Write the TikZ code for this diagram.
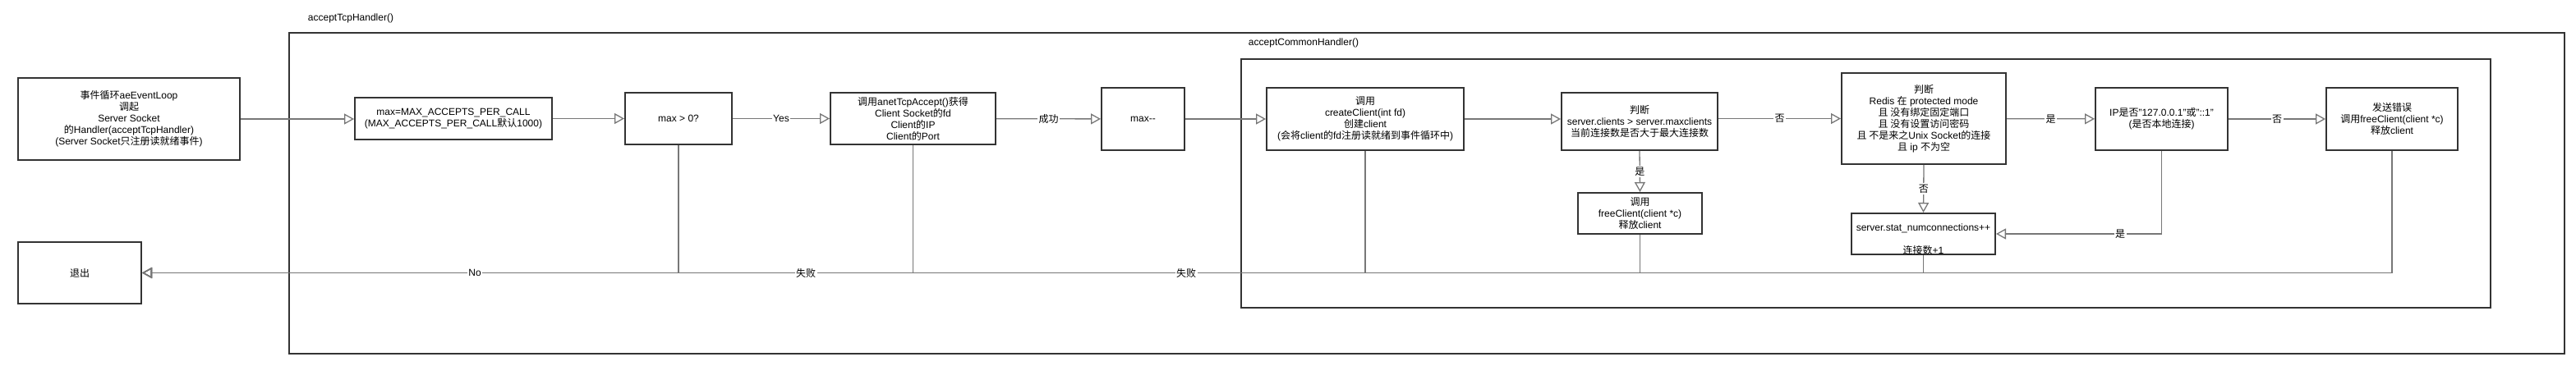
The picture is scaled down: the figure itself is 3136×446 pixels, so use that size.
\documentclass[tikz,border=0pt]{standalone}
\usepackage{fontspec}
\setmainfont{Liberation Sans}
\newfontfamily\cjk{Noto Sans CJK SC}
\newcommand\zh[1]{{\cjk #1}}
\usetikzlibrary{arrows.meta}
\definecolor{boxline}{HTML}{333333}
\definecolor{connline}{HTML}{777777}
\tikzset{
  proc/.style={draw=boxline, line width=2pt, align=center, inner sep=0pt, font=\fontsize{12}{14}\selectfont},
  hframe/.style={draw=boxline, line width=2pt},
  conn/.style={draw=connline, line width=1.3pt, -{Triangle[open,length=12pt,width=13pt]}},
  lbl/.style={fill=white, inner sep=1.5pt, font=\fontsize{12}{14}\selectfont},
  title/.style={inner sep=0pt, font=\fontsize{12}{14}\selectfont},
}
\begin{document}
\begin{tikzpicture}[x=1pt, y=-1pt]
  \useasboundingbox (0,0) rectangle (3136,446);
  % frames
  \draw[hframe] (352,40) rectangle (3122,431);
  \node[title] (tcplbl) at (427,22) {acceptTcpHandler()};
  \draw[hframe] (1511,72) rectangle (3032,375);
  \node[title] (commonlbl) at (1587,52) {acceptCommonHandler()};

  % boxes
  \node[proc, minimum width=270pt, minimum height=100pt] (loop) at (157,145)
    {\zh{事件循环}aeEventLoop\\\zh{调起}\\Server Socket\\\zh{的}Handler(acceptTcpHandler)\\(Server Socket\zh{只注册读就绪事件})};
  \node[proc, minimum width=150pt, minimum height=75pt] (quit) at (97,332.5) {\zh{退出}};
  \node[proc, minimum width=240pt, minimum height=51pt] (initmax) at (552,144.5)
    {max=MAX\_ACCEPTS\_PER\_CALL\\(MAX\_ACCEPTS\_PER\_CALL\zh{默认}1000)};
  \node[proc, minimum width=130pt, minimum height=63pt] (chkmax) at (826,144.5) {max > 0?};
  \node[proc, minimum width=201pt, minimum height=63pt] (accept) at (1111.5,144.5)
    {\zh{调用}anetTcpAccept()\zh{获得}\\Client Socket\zh{的}fd\\Client\zh{的}IP\\Client\zh{的}Port};
  \node[proc, minimum width=101pt, minimum height=76pt] (decmax) at (1391.5,145) {max-{}-};
  \node[proc, minimum width=240pt, minimum height=76pt] (create) at (1662,145)
    {\zh{调用}\\createClient(int fd)\\\zh{创建}client\\(\zh{会将}client\zh{的}fd\zh{注册读就绪到事件循环中})};
  \node[proc, minimum width=190pt, minimum height=70pt] (maxcli) at (1996,148)
    {\zh{判断}\\server.clients > server.maxclients\\\zh{当前连接数是否大于最大连接数}};
  \node[proc, minimum width=151pt, minimum height=50pt] (freec) at (1996.5,260)
    {\zh{调用}\\freeClient(client *c)\\\zh{释放}client};
  \node[proc, minimum width=200pt, minimum height=111pt] (prot) at (2342,144.5)
    {\zh{判断}\\Redis \zh{在} protected mode\\\zh{且 没有绑定固定端口}\\\zh{且 没有设置访问密码}\\\zh{且 不是来之}Unix Socket\zh{的连接}\\\zh{且} ip \zh{不为空}};
  \node[proc, minimum width=175pt, minimum height=50pt] (numc) at (2341.5,285) {};
  \node[title, align=center] (numctext) at (2341.5,291.5)
    {server.stat\_numconnections++\\~\\\zh{连接数}+1};
  \node[proc, minimum width=161pt, minimum height=76pt] (local) at (2631.5,145)
    {IP\zh{是否}"127.0.0.1"\zh{或}"::1"\\(\zh{是否本地连接})};
  \node[proc, minimum width=160pt, minimum height=76pt] (reject) at (2912,145)
    {\zh{发送错误}\\\zh{调用}freeClient(client *c)\\\zh{释放}client};

  % main flow
  \draw[conn] (loop.east) -- (loop.east -| initmax.west);
  \draw[conn] (initmax) -- (chkmax);
  \draw[conn] (chkmax) -- node[lbl] (yeslbl) {Yes} (accept);
  \draw[conn] (accept) -- node[lbl] (oklbl) {\zh{成功}} (decmax);
  \draw[conn] (decmax) -- (create);
  \draw[conn] (create.east) -- (create.east -| maxcli.west);
  \draw[conn] (prot.west -| maxcli.east) -- node[lbl] (nolbl1) {\zh{否}} (prot.west);
  \draw[conn] (maxcli.south) -- node[lbl] (yeslbl1) {\zh{是}} (freec.north);
  \draw[conn] (prot) -- node[lbl] (yeslbl2) {\zh{是}} (local);
  \draw[conn] (prot.south) -- node[lbl] (nolbl2) {\zh{否}} (numc.north);
  \draw[conn] (local) -- node[lbl] (nolbl3) {\zh{否}} (reject);
  \draw[conn] (local.south) |- (numc.east);
  \node[lbl] (yeslbl3) at (2581,285) {\zh{是}};

  % failure paths to quit
  \foreach \n in {chkmax,accept,create,freec,numc,reject}
    \draw[conn] (\n.south) |- (quit.east);
  \node[lbl] (nolbl) at (578,332.5) {No};
  \node[lbl] (faillbl1) at (981,332.5) {\zh{失败}};
  \node[lbl] (faillbl2) at (1444,332.5) {\zh{失败}};
\end{tikzpicture}
\end{document}
